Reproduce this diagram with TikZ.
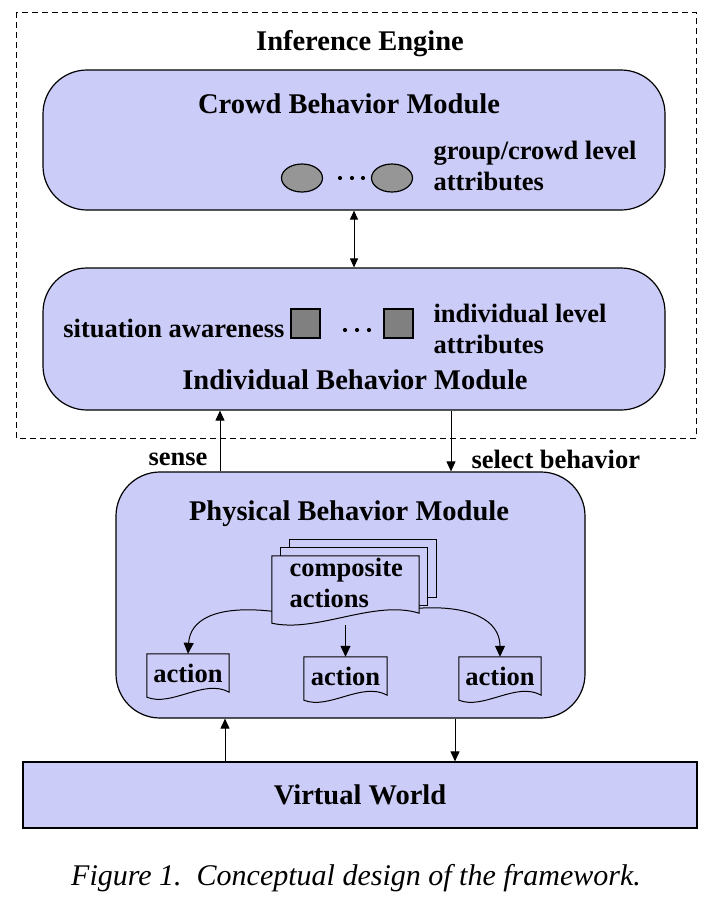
\documentclass[tikz,border=0pt]{standalone}
\usepackage{fontspec}
\setmainfont{Liberation Serif}
\usetikzlibrary{arrows.meta,shapes.geometric}
\definecolor{mod}{RGB}{204,204,248}
\definecolor{ovalgray}{RGB}{150,150,150}
\definecolor{sqgray}{RGB}{128,128,128}
\newcommand\docpath[3]{% node name, right rise, wave size
  \draw[fill=mod, line width=1pt] (#1.south west) -- (#1.north west) -- (#1.north east) -- ([yshift=#2]#1.south east)
   .. controls +(-#3,-14) and +(#3,10) .. (#1.south west) -- cycle;}
\begin{document}
\begin{tikzpicture}[x=1pt,y=-1pt,
  modbox/.style={draw, line width=1.2pt, fill=mod, rounded corners=44pt, inner sep=0pt},
  arr/.style={-{Triangle[length=10pt,width=9pt]}, line width=1pt},
  carr/.style={-{Triangle[length=11pt,width=10pt]}, line width=1pt},
  darr/.style={{Triangle[length=9pt,width=8pt]}-{Triangle[length=9pt,width=8pt]}, line width=1pt},
  ttl/.style={font=\fontsize{28.5}{31}\selectfont\bfseries},
  lbl/.style={font=\fontsize{26.5}{31}\selectfont\bfseries, align=left},
  dotm/.style={circle, fill=black, inner sep=0pt, minimum size=4.2pt},
  docnode/.style={inner sep=0pt, draw=none}]
\useasboundingbox (0,0) rectangle (706,910);
\draw[dashed, dash pattern=on 6pt off 4pt, line width=0.8pt] (16,12) rectangle (696,438);
\node[ttl] (ie) at (360,44) {Inference Engine};
% crowd module
\node[modbox, minimum width=622pt, minimum height=140pt] (crowd) at (354,140) {};
\node[ttl] (crowdt) at (349,104) {Crowd Behavior Module};
\node[ellipse, draw, line width=1.2pt, fill=ovalgray, minimum width=41pt, minimum height=28pt, inner sep=0pt] (ov1) at (302,178) {};
\node[ellipse, draw, line width=1.2pt, fill=ovalgray, minimum width=41pt, minimum height=28pt, inner sep=0pt] (ov2) at (392,178) {};
\node[dotm] (cd1) at (340,178) {};
\node[dotm] (cd2) at (352,178) {};
\node[dotm] (cd3) at (363,178) {};
\node[lbl, anchor=west] (gca) at (430,166) {group/crowd level\\attributes};
% individual module
\node[modbox, minimum width=622pt, minimum height=142pt] (indiv) at (354,339) {};
\node[lbl, anchor=east] (sa) at (288,328) {situation awareness};
\node[draw, line width=1.2pt, fill=sqgray, minimum width=29pt, minimum height=29pt, inner sep=0pt] (sq1) at (305.5,323.5) {};
\node[draw, line width=1.2pt, fill=sqgray, minimum width=29pt, minimum height=29pt, inner sep=0pt] (sq2) at (398.5,323.5) {};
\node[dotm] (id1) at (345,330) {};
\node[dotm] (id2) at (357,330) {};
\node[dotm] (id3) at (369,330) {};
\node[lbl, anchor=west] (ila) at (430,329) {individual level\\attributes};
\node[ttl] (indivt) at (355,380) {Individual Behavior Module};
\draw[darr] (crowd.south) -- (indiv.north);
% physical module
\node[modbox, minimum width=469pt, minimum height=246pt] (phys) at (350.5,595) {};
\node[ttl] (physt) at (349,514) {Physical Behavior Module};
\coordinate (sx) at (220,0);
\coordinate (bx) at (451,0);
\draw[arr] (phys.north -| sx) -- (indiv.south -| sx);
\draw[arr] (indiv.south -| bx) -- (phys.north -| bx);
\node[lbl, anchor=east] (sense) at (211,459) {sense};
\node[lbl, anchor=west] (selb) at (468,459) {select behavior};
% composite actions stack
\draw[fill=mod, line width=1pt] (289,539) rectangle (436,597);
\draw[fill=mod, line width=1pt] (280,547) rectangle (427,605);
\node[docnode, minimum width=147pt, minimum height=67pt] (comp) at (345.5,589.5) {};
\docpath{comp}{10pt}{45}
\node[lbl, anchor=north west] at (286,555) {composite\\actions};
% actions
\node[docnode, minimum width=82pt, minimum height=43pt] (act1) at (188,675.5) {};
\node[docnode, minimum width=83pt, minimum height=43pt] (act2) at (345.5,678.5) {};
\node[docnode, minimum width=82pt, minimum height=43pt] (act3) at (500,678.5) {};
\docpath{act1}{5pt}{25}
\docpath{act2}{5pt}{25}
\docpath{act3}{5pt}{25}
\node[lbl] at (188,673) {action};
\node[lbl] at (345.5,676) {action};
\node[lbl] at (500,676) {action};
\draw[carr] ([yshift=12pt]comp.south west) .. controls (215,605) and (190,620) .. (act1.north);
\draw[carr] ([yshift=-2pt]comp.south) -- (act2.north);
\draw[carr] ([yshift=15pt]comp.south east) .. controls (470,605) and (500,620) .. (act3.north);
% virtual world
\node[draw, line width=1.2pt, fill=mod, minimum width=674pt, minimum height=66pt, inner sep=0pt, ttl] (vw) at (360,795) {Virtual World};
\coordinate (ux) at (225,0);
\coordinate (dx) at (455,0);
\draw[arr] (vw.north -| ux) -- (phys.south -| ux);
\draw[arr] (phys.south -| dx) -- (vw.north -| dx);
% caption
\node[font=\fontsize{30}{33}\selectfont\itshape] (cap) at (356,878) {Figure 1.\ \ Conceptual design of the framework.};
\end{tikzpicture}
\end{document}
